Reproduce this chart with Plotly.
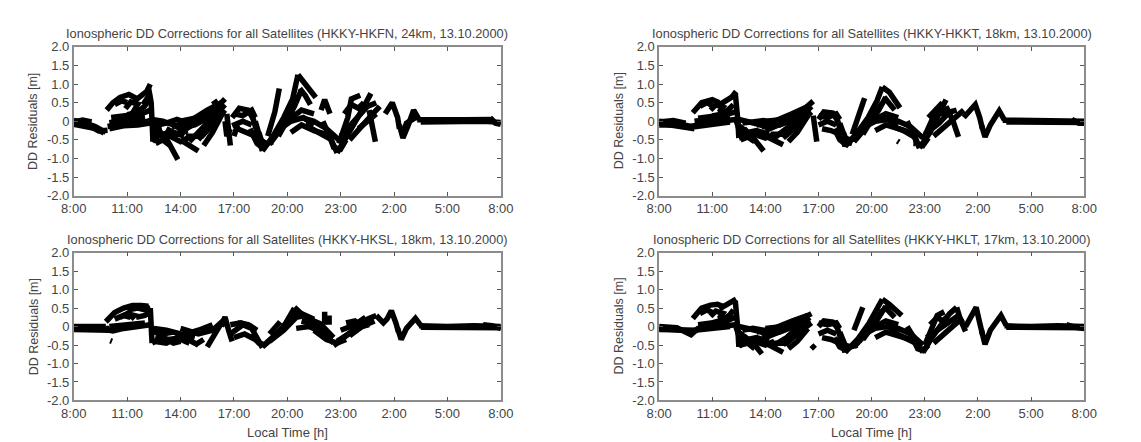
import plotly.graph_objects as go

# ---------------- data (hours since 8:00 local time on 13.10.2000, DD residual in m) -------------
tick_hours = [8, 11, 14, 17, 20, 23, 26, 29, 32]
tick_time_labels = ["8:00", "11:00", "14:00", "17:00", "20:00", "23:00", "2:00", "5:00", "8:00"]
dd_tick_vals = [2.0, 1.5, 1.0, 0.5, 0.0, -0.5, -1.0, -1.5, -2.0]
dd_tick_labels = ["2.0", "1.5", "1.0", "0.5", "0", "-0.5", "-1.0", "-1.5", "-2.0"]

panel_titles = [
    "Ionospheric DD Corrections for all Satellites (HKKY-HKFN, 24km, 13.10.2000)",
    "Ionospheric DD Corrections for all Satellites (HKKY-HKKT, 18km, 13.10.2000)",
    "Ionospheric DD Corrections for all Satellites (HKKY-HKSL, 18km, 13.10.2000)",
    "Ionospheric DD Corrections for all Satellites (HKKY-HKLT, 17km, 13.10.2000)",
]

# satellite tracks, each a list of (hour, residual)
hkfn_tracks = [
    [(8.0, 0.02), (8.6, -0.04), (9.2, -0.14), (9.8, -0.3)],
    [(8.1, -0.06), (8.8, -0.1), (9.4, -0.26), (9.9, -0.24)],
    [(8.0, -0.08), (8.7, -0.15), (9.3, -0.2), (9.7, -0.32)],
    [(8.0, -0.02), (8.5, 0.03), (9.0, -0.02)],
    [(9.9, -0.14), (10.6, -0.08), (11.4, -0.05), (12.2, 0.0)],
    [(10.0, -0.2), (10.8, -0.12), (11.6, -0.1), (12.3, -0.05)],
    [(10.0, -0.04), (11.0, 0.04), (12.0, 0.12)],
    [(10.1, 0.1), (11.0, 0.15), (11.8, 0.2), (12.3, 0.3)],
    [(9.85, 0.3), (10.2, 0.5), (10.6, 0.64), (11.1, 0.72), (11.5, 0.62)],
    [(10.3, 0.45), (10.7, 0.55), (11.0, 0.5)],
    [(10.9, 0.34), (11.2, 0.52), (11.6, 0.46), (11.4, 0.3), (11.8, 0.28)],
    [(11.0, 0.18), (11.6, 0.24), (12.0, 0.42), (12.2, 0.56)],
    [(11.4, 0.54), (11.8, 0.68), (12.1, 0.8), (12.3, 1.0)],
    [(11.9, 0.45), (12.1, 0.6), (12.3, 0.75)],
    [(12.2, 0.9), (12.35, 0.5), (12.4, 0.0), (12.45, -0.55)],
    [(12.3, 0.1), (12.5, -0.3), (12.7, -0.55)],
    [(12.45, -0.2), (12.6, 0.05), (12.8, -0.2), (12.9, -0.45)],
    [(12.4, -0.55), (12.8, -0.3), (13.3, -0.55), (13.85, -1.03)],
    [(12.4, 0.05), (13.0, 0.0), (13.6, -0.1), (14.0, -0.2)],
    [(12.7, -0.1), (13.2, -0.05), (13.8, 0.05), (14.4, -0.05)],
    [(12.5, -0.15), (13.0, -0.35), (13.5, -0.28), (14.2, -0.4)],
    [(12.9, -0.45), (13.4, -0.4), (14.0, -0.55), (14.4, -0.45)],
    [(12.6, -0.6), (13.0, -0.5), (13.4, -0.65)],
    [(13.2, -0.2), (13.8, -0.35), (14.4, -0.25)],
    [(13.5, -0.15), (14.5, 0.0), (15.5, 0.3), (16.3, 0.5)],
    [(13.8, -0.2), (14.8, -0.1), (15.6, 0.1), (16.4, 0.4)],
    [(14.0, -0.3), (15.0, 0.0), (16.0, 0.35), (16.5, 0.6)],
    [(14.5, -0.55), (15.2, -0.2), (16.0, 0.15), (16.5, 0.45)],
    [(14.3, -0.4), (15.2, -0.4), (15.8, -0.1), (16.5, 0.3)],
    [(14.0, -0.5), (14.6, -0.68), (15.0, -0.8)],
    [(15.0, -0.5), (15.5, -0.2), (16.2, 0.2)],
    [(14.0, 0.0), (15.0, 0.1), (16.0, 0.3)],
    [(15.3, -0.65), (15.8, -0.3), (16.4, 0.25)],
    [(15.8, 0.45), (16.1, 0.55)],
    [(16.6, 0.2), (16.7, -0.3), (16.8, -0.65)],
    [(16.5, 0.0), (16.6, -0.4), (16.8, -0.2)],
    [(16.9, 0.1), (17.3, 0.35), (17.8, 0.3), (18.1, 0.05)],
    [(17.0, 0.2), (17.5, 0.15), (18.0, 0.3), (18.2, 0.1)],
    [(16.9, -0.12), (17.5, 0.0), (18.0, -0.1)],
    [(17.0, -0.4), (17.2, -0.1)],
    [(17.2, -0.2), (17.7, -0.3), (18.2, -0.4), (18.5, -0.65)],
    [(18.0, 0.2), (18.3, -0.3), (18.6, -0.8)],
    [(17.9, -0.2), (18.3, -0.6), (18.7, -0.75)],
    [(18.2, 0.0), (18.5, -0.5), (18.8, -0.6), (19.2, -0.55)],
    [(18.4, -0.3), (18.6, -0.6), (18.9, -0.7)],
    [(18.6, -0.8), (19.2, -0.4), (19.8, 0.1), (20.3, 0.6), (20.6, 1.25)],
    [(18.9, -0.4), (19.3, 0.25), (19.55, 0.88)],
    [(19.0, -0.62), (19.8, -0.1), (20.4, 0.4), (20.8, 0.85)],
    [(19.5, -0.4), (20.2, 0.2), (20.6, 0.7)],
    [(19.6, -0.2), (20.2, 0.0), (20.9, 0.1), (21.5, -0.1)],
    [(20.6, 1.25), (21.0, 1.02), (21.6, 0.64)],
    [(20.7, 0.88), (21.0, 0.7), (21.3, 0.45)],
    [(20.0, 0.0), (20.8, 0.3), (21.5, 0.2)],
    [(20.2, -0.3), (20.8, -0.1), (21.5, -0.25), (22.2, -0.35)],
    [(20.8, 0.1), (21.5, 0.0), (22.2, -0.2), (22.9, -0.5)],
    [(21.0, -0.1), (21.8, -0.3), (22.5, -0.5)],
    [(21.9, 0.3), (22.1, 0.58), (22.4, 0.2)],
    [(22.0, 0.0), (22.5, -0.5), (22.8, -0.85)],
    [(22.3, -0.3), (22.6, -0.7), (23.0, -0.75), (23.3, -0.5)],
    [(22.8, -0.85), (23.5, -0.3), (24.2, 0.3), (24.7, 0.75)],
    [(22.9, -0.6), (23.4, 0.1), (23.6, 0.6), (24.1, 0.7)],
    [(23.0, -0.4), (23.8, 0.0), (24.5, 0.4), (25.0, 0.5)],
    [(23.2, 0.2), (23.6, 0.45), (24.0, 0.35), (24.3, 0.5)],
    [(23.5, -0.5), (24.2, -0.1), (24.8, 0.2), (25.2, 0.4)],
    [(24.0, -0.2), (24.5, 0.0), (25.0, 0.2)],
    [(24.6, 0.3), (24.8, -0.1), (24.95, -0.55)],
    [(25.5, 0.2), (25.9, 0.5), (26.2, 0.1), (26.3, -0.2)],
    [(26.3, -0.1), (26.5, -0.45), (26.8, -0.1), (27.1, 0.3), (27.4, 0.05)],
    [(26.5, -0.3), (26.7, -0.05), (27.2, 0.1)],
    [(27.3, 0.04), (28.5, 0.03), (30.0, 0.04), (31.5, 0.05)],
    [(27.5, -0.02), (29.5, 0.0), (31.0, 0.0), (32.0, -0.03)],
    [(31.4, 0.1), (31.7, -0.05), (32.0, -0.08)],
]

hkkt_tracks = [
    [(8.0, 0.0), (9.0, -0.05), (9.9, -0.15), (10.5, -0.05), (11.5, 0.0), (12.3, 0.05)],
    [(8.0, -0.05), (9.2, -0.12), (10.0, -0.2)],
    [(8.0, -0.1), (8.9, -0.1), (9.6, -0.15), (10.2, -0.1)],
    [(8.0, -0.02), (8.8, 0.02), (9.5, -0.05)],
    [(10.0, 0.0), (11.0, 0.05), (12.0, 0.12)],
    [(10.0, -0.15), (11.0, -0.08), (12.0, -0.02)],
    [(10.2, 0.08), (11.0, 0.12), (11.8, 0.18), (12.3, 0.25)],
    [(9.9, 0.23), (10.4, 0.5), (11.0, 0.58), (11.4, 0.5)],
    [(10.3, 0.4), (10.7, 0.5), (11.0, 0.42)],
    [(10.9, 0.3), (11.2, 0.44), (11.6, 0.38), (11.4, 0.25), (11.8, 0.24)],
    [(11.0, 0.14), (11.6, 0.2), (12.0, 0.35), (12.2, 0.45)],
    [(11.4, 0.44), (11.8, 0.55), (12.1, 0.65), (12.35, 0.8)],
    [(12.3, 0.75), (12.4, 0.4), (12.45, 0.0), (12.5, -0.45)],
    [(12.3, 0.1), (12.5, -0.25), (12.7, -0.5)],
    [(12.5, -0.45), (12.9, -0.25), (13.4, -0.5), (13.9, -0.8)],
    [(12.5, 0.05), (13.0, 0.0), (13.6, -0.08), (14.0, -0.15)],
    [(12.7, -0.05), (13.3, 0.0), (13.9, 0.02), (14.4, -0.05)],
    [(12.5, -0.12), (13.0, -0.3), (13.5, -0.25), (14.2, -0.35)],
    [(12.9, -0.4), (13.4, -0.35), (14.0, -0.45), (14.5, -0.35)],
    [(12.6, -0.5), (13.0, -0.42), (13.4, -0.55)],
    [(13.5, -0.1), (14.5, 0.0), (15.5, 0.2), (16.4, 0.4)],
    [(13.8, -0.15), (14.8, -0.1), (15.6, 0.05), (16.5, 0.3)],
    [(14.0, -0.25), (15.0, -0.05), (16.0, 0.25), (16.7, 0.54)],
    [(14.5, -0.45), (15.2, -0.2), (16.0, 0.1), (16.6, 0.4)],
    [(14.3, -0.35), (15.2, -0.35), (15.8, -0.1), (16.6, 0.25)],
    [(14.0, -0.4), (14.6, -0.55), (15.0, -0.63)],
    [(15.0, -0.45), (15.5, -0.25), (16.2, 0.1)],
    [(14.0, 0.0), (15.0, 0.05), (16.0, 0.2)],
    [(15.3, -0.55), (15.8, -0.3), (16.4, 0.15)],
    [(16.7, 0.15), (16.8, -0.25), (16.9, -0.55)],
    [(17.0, 0.05), (17.3, 0.25), (17.8, 0.22), (18.1, 0.0)],
    [(17.0, 0.15), (17.5, 0.1), (18.0, 0.2), (18.2, 0.05)],
    [(17.0, -0.1), (17.5, 0.0), (18.0, -0.1)],
    [(17.2, -0.2), (17.7, -0.25), (18.2, -0.35), (18.4, -0.55)],
    [(18.0, 0.15), (18.3, -0.3), (18.5, -0.68)],
    [(17.9, -0.2), (18.2, -0.5), (18.6, -0.65)],
    [(18.2, -0.05), (18.5, -0.45), (18.8, -0.5), (19.2, -0.45)],
    [(18.4, -0.3), (18.6, -0.55), (18.9, -0.6)],
    [(18.5, -0.68), (19.2, -0.3), (19.8, 0.1), (20.3, 0.55), (20.6, 0.92)],
    [(18.9, -0.35), (19.3, 0.15), (19.6, 0.62)],
    [(19.0, -0.55), (19.8, -0.1), (20.4, 0.3), (20.8, 0.65)],
    [(19.5, -0.35), (20.2, 0.15), (20.6, 0.5)],
    [(19.6, -0.15), (20.2, 0.0), (20.9, 0.05), (21.5, -0.1)],
    [(20.6, 0.92), (21.0, 0.78), (21.6, 0.36)],
    [(20.7, 0.65), (21.0, 0.5), (21.3, 0.3)],
    [(20.0, 0.0), (20.8, 0.2), (21.5, 0.1)],
    [(20.2, -0.25), (20.8, -0.1), (21.5, -0.2), (22.2, -0.3)],
    [(20.8, 0.05), (21.5, 0.0), (22.2, -0.15), (22.9, -0.45)],
    [(21.0, -0.1), (21.8, -0.25), (22.5, -0.45)],
    [(21.45, -0.53), (21.55, -0.56)],
    [(22.35, -0.6), (22.45, -0.6)],
    [(22.0, 0.0), (22.4, -0.4), (22.7, -0.72)],
    [(22.3, -0.25), (22.6, -0.6), (22.9, -0.65), (23.2, -0.45)],
    [(22.7, -0.72), (23.3, -0.3), (23.8, 0.2), (24.2, 0.58)],
    [(22.9, -0.5), (23.4, 0.0), (23.7, 0.35), (24.0, 0.5)],
    [(23.0, -0.35), (23.8, -0.05), (24.4, 0.25), (24.8, 0.3)],
    [(23.2, 0.1), (23.6, 0.3), (24.0, 0.2), (24.3, 0.35)],
    [(23.5, -0.4), (24.2, -0.1), (24.8, 0.15), (25.2, 0.3)],
    [(24.2, 0.4), (24.6, 0.0), (24.9, -0.42)],
    [(25.2, 0.1), (25.85, 0.45), (26.1, 0.1), (26.25, -0.2)],
    [(26.2, -0.1), (26.4, -0.42), (26.7, -0.1), (27.2, 0.28), (27.5, 0.03)],
    [(27.4, 0.03), (29.0, 0.02), (30.5, 0.03), (32.0, 0.0)],
    [(27.6, -0.02), (29.5, -0.01), (31.0, 0.0), (32.0, -0.03)],
    [(31.3, 0.05), (31.7, -0.05), (32.0, -0.05)],
]

hksl_tracks = [
    [(8.0, 0.0), (9.0, -0.02), (9.8, 0.0)],
    [(8.0, -0.05), (9.0, -0.06), (10.0, -0.05)],
    [(8.0, -0.08), (9.0, -0.1), (10.0, -0.1)],
    [(9.8, -0.08), (10.2, -0.12), (10.8, -0.05), (11.8, 0.0), (12.3, 0.05)],
    [(10.0, 0.0), (11.0, 0.05), (12.0, 0.1)],
    [(10.05, -0.38), (10.15, -0.4)],
    [(9.8, 0.13), (10.3, 0.38), (10.8, 0.5), (11.3, 0.57), (11.8, 0.57), (12.2, 0.55)],
    [(10.3, 0.2), (10.8, 0.3), (11.2, 0.25)],
    [(10.6, 0.25), (11.0, 0.35), (11.4, 0.3), (11.2, 0.2)],
    [(11.0, 0.45), (11.6, 0.5), (12.0, 0.45), (12.3, 0.52)],
    [(11.5, 0.25), (12.0, 0.3), (12.3, 0.4)],
    [(12.3, 0.5), (12.35, 0.1), (12.4, -0.45)],
    [(12.4, -0.45), (13.0, -0.3), (13.6, -0.45), (14.0, -0.4)],
    [(12.5, -0.4), (13.2, -0.45), (13.8, -0.3), (14.5, -0.45)],
    [(12.5, -0.15), (13.0, -0.2), (13.6, -0.15)],
    [(12.5, -0.05), (13.2, -0.1), (14.0, -0.2), (14.8, -0.3)],
    [(12.6, -0.25), (13.3, -0.35), (14.2, -0.3), (15.0, -0.5)],
    [(13.5, -0.45), (14.3, -0.2), (15.0, -0.1), (15.8, 0.05)],
    [(14.0, -0.05), (15.0, -0.2), (15.8, -0.1), (16.5, 0.2)],
    [(15.5, -0.55), (15.9, -0.2), (16.3, 0.1)],
    [(14.8, -0.5), (15.3, -0.35)],
    [(16.3, 0.0), (16.5, 0.26), (16.7, -0.1), (16.9, -0.4)],
    [(16.8, -0.2), (17.5, 0.05), (18.0, -0.05), (18.6, -0.57)],
    [(16.8, 0.05), (17.4, 0.1), (18.0, 0.0)],
    [(17.0, -0.3), (17.6, -0.2), (18.2, -0.35), (18.6, -0.5)],
    [(18.0, -0.2), (18.4, -0.45), (18.8, -0.5)],
    [(17.2, 0.1), (17.8, 0.05), (18.3, -0.1)],
    [(18.6, -0.55), (19.2, -0.3), (19.8, 0.0), (20.4, 0.5)],
    [(19.0, -0.2), (19.6, 0.13)],
    [(18.8, -0.45), (19.5, -0.15), (20.2, 0.2), (20.6, 0.4)],
    [(19.0, -0.4), (19.8, -0.1), (20.5, 0.25), (21.0, 0.3)],
    [(19.6, -0.1), (20.3, 0.3), (20.8, 0.35), (21.5, 0.2)],
    [(20.4, 0.52), (20.9, 0.3), (21.5, 0.15), (22.0, 0.05)],
    [(20.8, 0.15), (21.5, 0.05), (22.0, 0.0), (22.6, -0.3)],
    [(20.5, -0.05), (21.2, 0.0), (22.0, -0.15), (22.6, -0.45)],
    [(21.5, -0.1), (22.2, -0.35), (22.8, -0.45), (23.3, -0.35)],
    [(21.0, 0.2), (21.6, 0.1), (22.3, -0.2)],
    [(22.1, 0.4), (22.1, 0.05)],
    [(22.35, 0.3), (22.35, 0.05)],
    [(22.6, -0.52), (23.2, -0.3), (23.9, -0.05), (24.5, 0.2), (25.0, 0.3)],
    [(22.8, -0.4), (23.6, -0.15), (24.2, 0.1), (24.8, 0.22)],
    [(23.5, -0.25), (24.2, 0.0), (24.9, 0.15)],
    [(23.3, 0.1), (23.8, 0.15), (24.2, 0.0), (24.6, 0.05)],
    [(23.0, -0.1), (23.8, 0.05), (24.4, 0.25)],
    [(25.0, 0.3), (25.4, 0.1), (25.6, 0.2), (25.85, 0.43), (26.1, 0.1), (26.25, -0.15)],
    [(26.2, -0.05), (26.4, -0.35), (26.7, -0.05), (27.2, 0.22), (27.5, 0.03)],
    [(27.4, 0.02), (29.0, 0.0), (30.5, 0.02), (32.0, 0.0)],
    [(27.5, -0.02), (29.5, -0.02), (31.0, -0.01), (32.0, -0.03)],
    [(31.0, 0.05), (31.5, 0.02), (32.0, -0.05)],
]

hklt_tracks = [
    [(8.0, 0.0), (9.0, -0.03), (9.8, -0.22), (10.2, -0.05), (11.5, 0.0), (12.3, 0.05)],
    [(8.0, -0.05), (9.0, -0.08), (9.8, -0.12)],
    [(8.0, -0.08), (9.0, -0.08), (9.6, -0.1), (10.2, -0.1)],
    [(10.0, -0.1), (11.0, -0.05), (12.0, 0.0)],
    [(10.2, 0.05), (11.0, 0.1), (11.8, 0.15), (12.3, 0.25)],
    [(9.9, 0.22), (10.4, 0.5), (10.9, 0.58), (11.3, 0.6), (11.6, 0.55)],
    [(10.3, 0.35), (10.7, 0.45), (11.0, 0.38)],
    [(10.9, 0.28), (11.2, 0.42), (11.6, 0.36), (11.4, 0.22), (11.8, 0.22)],
    [(11.0, 0.1), (11.6, 0.18), (12.0, 0.32), (12.2, 0.45)],
    [(11.4, 0.48), (11.8, 0.58), (12.1, 0.65), (12.35, 0.74)],
    [(12.3, 0.7), (12.4, 0.3), (12.45, -0.1), (12.5, -0.55)],
    [(12.3, 0.05), (12.5, -0.3), (12.7, -0.55)],
    [(12.5, -0.55), (12.9, -0.3), (13.4, -0.5), (13.8, -0.74)],
    [(12.5, 0.0), (13.0, -0.05), (13.6, -0.12), (14.0, -0.2)],
    [(12.7, -0.1), (13.3, -0.05), (13.9, -0.1), (14.4, -0.15)],
    [(12.5, -0.15), (13.0, -0.35), (13.5, -0.3), (14.2, -0.4)],
    [(12.9, -0.45), (13.4, -0.4), (14.0, -0.5), (14.5, -0.4)],
    [(12.6, -0.5), (13.0, -0.45), (13.4, -0.6)],
    [(13.5, -0.15), (14.5, -0.05), (15.5, 0.15), (16.4, 0.3)],
    [(13.8, -0.25), (14.8, -0.15), (15.6, 0.0), (16.5, 0.2)],
    [(14.0, -0.3), (15.0, -0.1), (16.0, 0.2), (16.6, 0.35)],
    [(14.5, -0.5), (15.2, -0.3), (16.0, 0.05), (16.5, 0.25)],
    [(14.3, -0.45), (15.2, -0.45), (15.8, -0.2), (16.6, 0.1)],
    [(14.0, -0.45), (14.6, -0.6), (15.0, -0.7)],
    [(15.0, -0.5), (15.5, -0.3), (16.2, 0.0)],
    [(14.0, -0.05), (15.0, 0.0), (16.0, 0.1)],
    [(15.3, -0.6), (15.8, -0.4), (16.4, -0.05)],
    [(16.6, -0.5), (16.8, -0.6)],
    [(17.0, 0.0), (17.3, 0.15), (17.8, 0.12), (18.1, -0.05)],
    [(17.0, 0.1), (17.5, 0.05), (18.0, 0.1), (18.2, -0.05)],
    [(17.0, -0.2), (17.5, -0.1), (18.0, -0.2)],
    [(17.2, -0.3), (17.7, -0.35), (18.2, -0.45), (18.4, -0.6)],
    [(18.0, 0.05), (18.3, -0.35), (18.5, -0.7)],
    [(17.9, -0.3), (18.2, -0.55), (18.6, -0.65)],
    [(18.2, -0.15), (18.5, -0.5), (18.8, -0.55), (19.2, -0.5)],
    [(18.5, -0.7), (19.2, -0.35), (19.8, 0.05), (20.3, 0.45), (20.6, 0.74)],
    [(19.0, -0.1), (19.3, 0.25), (19.5, 0.52)],
    [(19.0, -0.55), (19.8, -0.15), (20.4, 0.25), (20.8, 0.55)],
    [(19.5, -0.35), (20.2, 0.1), (20.6, 0.45)],
    [(19.6, -0.2), (20.2, -0.05), (20.9, 0.0), (21.5, -0.15)],
    [(20.6, 0.74), (21.0, 0.6), (21.7, 0.3)],
    [(20.7, 0.55), (21.0, 0.42), (21.3, 0.25)],
    [(20.0, -0.05), (20.8, 0.15), (21.5, 0.05)],
    [(20.2, -0.3), (20.8, -0.15), (21.5, -0.25), (22.2, -0.35)],
    [(20.8, 0.0), (21.5, -0.05), (22.2, -0.2), (22.9, -0.5)],
    [(21.0, -0.1), (21.8, -0.3), (22.5, -0.45)],
    [(22.0, 0.0), (22.5, -0.4), (22.9, -0.7)],
    [(22.3, -0.3), (22.6, -0.6), (22.9, -0.65), (23.2, -0.5)],
    [(22.9, -0.7), (23.4, -0.3), (24.0, 0.1), (24.4, 0.35), (24.8, 0.52)],
    [(23.0, -0.5), (23.4, 0.0), (23.7, 0.3), (24.1, 0.4)],
    [(23.1, -0.3), (23.8, -0.05), (24.4, 0.15), (24.9, 0.3)],
    [(23.3, 0.05), (23.7, 0.25), (24.0, 0.15), (24.3, 0.28)],
    [(23.5, -0.45), (24.2, -0.15), (24.8, 0.1), (25.2, 0.2)],
    [(24.8, 0.52), (25.0, 0.2), (25.3, -0.13)],
    [(25.3, 0.0), (25.6, 0.3), (25.9, 0.52), (26.1, 0.1), (26.25, -0.2)],
    [(26.2, -0.1), (26.4, -0.48), (26.7, -0.1), (27.3, 0.3), (27.6, 0.03)],
    [(27.5, 0.02), (29.0, 0.0), (30.5, 0.02), (32.0, 0.0)],
    [(27.6, -0.02), (29.5, -0.02), (31.0, -0.01), (32.0, -0.03)],
    [(31.0, 0.05), (31.5, -0.02), (32.0, -0.05)],
]

# ---------------- figure ----------------
W, H = 1141, 442
panels = [hkfn_tracks, hkkt_tracks, hksl_tracks, hklt_tracks]

# plot-area boxes in pixels: (left, right, top, bottom)
boxes = [(54, 491, 33, 187), (653, 1088, 33, 187), (54, 491, 246, 399), (653, 1088, 246, 399)]

FONT = "Liberation Sans, Arial, sans-serif"
TXT = "#444444"
FRAME = "#8c8c8c"

fig = go.Figure()
layout = dict(width=W, height=H, margin=dict(l=0, r=0, t=0, b=0),
              paper_bgcolor="white", plot_bgcolor="white", showlegend=False,
              font=dict(family=FONT, color=TXT, size=13))
annotations = []

for i, (tracks, box) in enumerate(zip(panels, boxes)):
    n = "" if i == 0 else str(i + 1)
    xs, ys = [], []
    for tr in tracks:
        xs += [p[0] for p in tr] + [None]
        ys += [p[1] for p in tr] + [None]
    fig.add_trace(go.Scatter(x=xs, y=ys, mode="lines", xaxis="x" + n, yaxis="y" + n,
                             line=dict(color="black", width=5.5), connectgaps=False,
                             hoverinfo="skip"))
    l, r, t, b = box
    layout["xaxis" + n] = dict(domain=[l / W, r / W], anchor="y" + n, range=[8, 32],
                               tickvals=tick_hours, ticktext=tick_time_labels,
                               ticks="inside", ticklen=4, tickwidth=1, tickcolor="#555",
                               showline=True, linecolor=FRAME, linewidth=1.6, mirror="ticks",
                               showgrid=False, zeroline=False,
                               tickfont=dict(size=13, color=TXT, family=FONT))
    layout["yaxis" + n] = dict(domain=[1 - b / H, 1 - t / H], anchor="x" + n, range=[-2, 2],
                               tickvals=dd_tick_vals, ticktext=dd_tick_labels,
                               ticks="inside", ticklen=4, tickwidth=1, tickcolor="#555",
                               showline=True, linecolor=FRAME, linewidth=1.6, mirror="ticks",
                               showgrid=False, zeroline=False,
                               tickfont=dict(size=13, color=TXT, family=FONT))
    cx = (l + r) / 2 / W
    annotations.append(dict(text=panel_titles[i], x=cx, y=1 - (t - 14) / H, xref="paper",
                            yref="paper", showarrow=False, xanchor="center", yanchor="middle",
                            font=dict(size=12.8, color=TXT, family=FONT)))
    annotations.append(dict(text="DD Residuals [m]", x=(l - 41) / W, y=1 - (t + b) / 2 / H,
                            xref="paper", yref="paper", showarrow=False, textangle=-90,
                            xanchor="center", yanchor="middle",
                            font=dict(size=12.5, color=TXT, family=FONT)))
    if i >= 2:
        annotations.append(dict(text="Local Time [h]", x=cx, y=1 - (b + 33) / H,
                                xref="paper", yref="paper", showarrow=False,
                                xanchor="center", yanchor="middle",
                                font=dict(size=13, color=TXT, family=FONT)))

layout["annotations"] = annotations
fig.update_layout(**layout)
fig.write_html("out.html")
